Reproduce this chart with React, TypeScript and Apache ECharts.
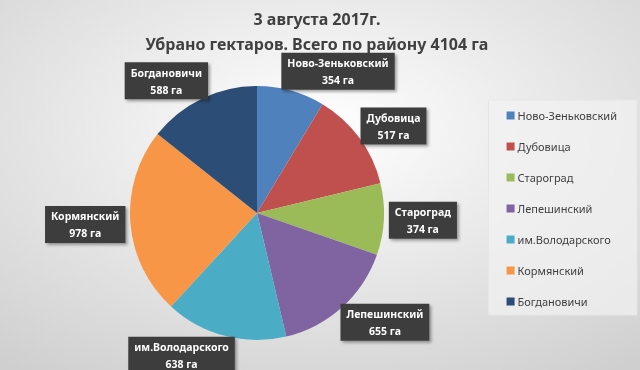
import React, { useEffect, useRef } from "react";
import * as echarts from "echarts";

const categories = [
  "Ново-Зеньковский",
  "Дубовица",
  "Староград",
  "Лепешинский",
  "им.Володарского",
  "Кормянский",
  "Богдановичи",
];
const values = [354, 517, 374, 655, 638, 978, 588];
const colors = ["#4f81bd", "#c0504d", "#9bbb59", "#8064a2", "#4bacc6", "#f79646", "#2c4d75"];
const titleLines = ["3 августа 2017г.", "Убрано гектаров. Всего по району 4104 га"];
const unit = "га";

export default function App() {
  const ref = useRef<HTMLDivElement>(null);
  useEffect(() => {
    if (!ref.current) return;
    const chart = echarts.init(ref.current, undefined, { renderer: "svg" });
    const font = "'Noto Sans', 'Open Sans', sans-serif";
    const labelText = {
      fontFamily: font,
      fontWeight: "bold",
      fontSize: 10.5,
      lineHeight: 17,
      color: "#ffffff",
      align: "center",
    };
    chart.setOption({
      animation: false,
      backgroundColor: {
        type: "radial",
        x: 0.5,
        y: 0.35,
        r: 0.8,
        colorStops: [
          { offset: 0, color: "#ffffff" },
          { offset: 1, color: "#cfcfcf" },
        ],
      },
      color: colors,
      title: {
        text: titleLines.join("\n"),
        left: 312,
        top: 1,
        textAlign: "center",
        textStyle: {
          fontFamily: font,
          fontWeight: "bold",
          fontSize: 16,
          lineHeight: 25,
          color: "#404040",
        },
      },
      legend: {
        orient: "vertical",
        right: 3,
        top: 100,
        padding: [10, 20, 8, 18],
        itemWidth: 8,
        itemHeight: 8,
        itemGap: 20,
        icon: "rect",
        backgroundColor: "rgba(242,242,242,0.7)",
        borderColor: "#e6e6e6",
        borderWidth: 1,
        textStyle: { fontFamily: font, fontSize: 11, color: "#404040", padding: [0, 0, 0, -2] },
        data: categories,
      },
      series: [
        {
          type: "pie",
          center: [257, 213],
          radius: 127,
          startAngle: 90,
          clockwise: true,
          avoidLabelOverlap: false,
          data: categories.map((name, i) => ({ name, value: values[i] })),
          itemStyle: { borderWidth: 0 },
          label: {
            show: true,
            position: "outside",
            formatter: "{t|{b}}\n{t|{c} " + unit + "}",
            rich: { t: labelText },
            ...labelText,
            backgroundColor: "#3c3c3c",
            padding: [2, 6, 1, 6],
            shadowColor: "rgba(0,0,0,0.35)",
            shadowBlur: 3,
            shadowOffsetX: 2,
            shadowOffsetY: 2,
          },
          labelLine: { show: false, length: 20, length2: 0 },
          labelLayout: (params: any) => ({
            dx: params.align === "right" ? 20 : -20,
          }),
          emphasis: { disabled: true },
        },
      ],
    });
    return () => chart.dispose();
  }, []);
  return (
    <div
      ref={ref}
      style={{ position: "fixed", left: 0, top: 0, width: 640, height: 370 }}
    />
  );
}
